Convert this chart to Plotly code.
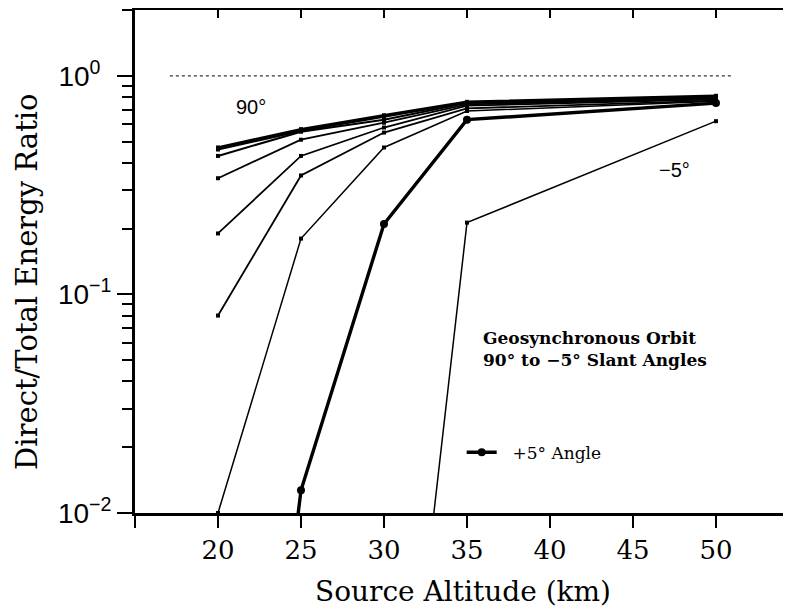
import plotly.graph_objects as go

# ---------------- data ----------------
altitudes = [20, 25, 30, 35, 50]

ratio_90deg = [0.47, 0.57, 0.66, 0.76, 0.81]
ratio_line2 = [0.46, 0.56, 0.65, 0.755, 0.80]
ratio_line3 = [0.43, 0.555, 0.63, 0.75, 0.79]
ratio_line4 = [0.34, 0.51, 0.61, 0.74, 0.785]
ratio_line5 = [0.19, 0.43, 0.58, 0.73, 0.78]
ratio_line6 = [0.08, 0.35, 0.55, 0.71, 0.77]
ratio_line7 = [0.01, 0.18, 0.47, 0.69, 0.765]

plus5_altitudes = [20, 25, 30, 35, 50]
ratio_plus5deg = [0.00001, 0.0127, 0.21, 0.63, 0.75]

minus5_altitudes = [30, 35, 50]
ratio_minus5deg = [0.0001, 0.213, 0.62]

unity_altitudes = [17.1, 51.0]
unity_ratio = [1.0, 1.0]

x_tickvals = [15, 20, 25, 30, 35, 40, 45, 50]
x_ticktext = ["", "20", "25", "30", "35", "40", "45", "50"]
x_top_tickvals = [20, 25, 30, 35, 40, 45, 50]
y_tickvals = [0.01, 0.1, 1]
y_ticktext = ["10<sup>\u22122</sup>",
              "10<sup>\u22121</sup>",
              "10<sup>0\u00a0\u00a0</sup>"]
y_minor_vals = [0.02, 0.03, 0.04, 0.05, 0.06, 0.07, 0.08, 0.09,
                0.2, 0.3, 0.4, 0.5, 0.6, 0.7, 0.8, 0.9, 2.0]

X_RANGE = [15, 54.52]
Y_RANGE = [-2, 0.301]

SERIF = "DejaVu Serif"
HELV = "Liberation Sans"

fig = go.Figure()

# dotted unity reference line
fig.add_trace(go.Scatter(x=unity_altitudes, y=unity_ratio, mode="lines",
                         line=dict(color="#333333", width=1.2, dash="dot"),
                         showlegend=False, hoverinfo="skip"))

thin_series = [ratio_90deg, ratio_line2, ratio_line3, ratio_line4,
               ratio_line5, ratio_line6, ratio_line7]
thin_widths = [2.6, 2.2, 2.0, 1.8, 1.8, 1.8, 1.5]
for vals, w in zip(thin_series, thin_widths):
    fig.add_trace(go.Scatter(x=altitudes, y=vals, mode="lines+markers",
                             line=dict(color="black", width=w),
                             marker=dict(symbol="square", size=4, color="black"),
                             showlegend=False))

fig.add_trace(go.Scatter(x=minus5_altitudes, y=ratio_minus5deg, mode="lines+markers",
                         line=dict(color="black", width=1.5),
                         marker=dict(symbol="square", size=4, color="black"),
                         showlegend=False))

fig.add_trace(go.Scatter(x=plus5_altitudes, y=ratio_plus5deg, mode="lines+markers",
                         name="\u00a0\u00a0+5\u00b0 Angle",
                         line=dict(color="black", width=3.4),
                         marker=dict(symbol="circle", size=8, color="black"),
                         showlegend=True))

# dummy trace for mirrored (inward) tick axes
fig.add_trace(go.Scatter(x=[None], y=[None], xaxis="x2", yaxis="y2",
                         showlegend=False, hoverinfo="skip"))

fig.update_layout(
    width=791, height=609,
    margin=dict(l=127, r=8, t=2, b=104, autoexpand=False),
    paper_bgcolor="white", plot_bgcolor="white",
    showlegend=True,
    legend=dict(x=0.498, y=0.12, xanchor="left", yanchor="middle",
                bgcolor="rgba(0,0,0,0)", borderwidth=0,
                font=dict(family=SERIF, size=17, color="black"),
                itemwidth=30, tracegroupgap=0),
    xaxis=dict(range=X_RANGE, showline=True, linewidth=3, linecolor="black",
               ticks="outside", ticklen=12, tickwidth=2, tickcolor="black",
               tickmode="array", tickvals=x_tickvals, ticktext=x_ticktext,
               tickfont=dict(family=SERIF, size=26, color="black"),
               showgrid=False, zeroline=False, automargin=False,
               title=dict(text="Source Altitude (km)", standoff=18,
                          font=dict(family=SERIF, size=28, color="black"))),
    yaxis=dict(type="log", range=Y_RANGE, showline=True, linewidth=3, linecolor="black",
               ticks="outside", ticklen=15, tickwidth=2, tickcolor="black",
               tickmode="array", tickvals=y_tickvals, ticktext=y_ticktext,
               tickfont=dict(family=HELV, size=28, color="black"),
               minor=dict(ticks="outside", ticklen=10, tickwidth=1.5, tickcolor="black",
                          tickvals=y_minor_vals, showgrid=False),
               showgrid=False, zeroline=False, automargin=False),
    xaxis2=dict(range=X_RANGE, overlaying="x", side="top", showline=True, linewidth=3,
                linecolor="black", ticks="inside", ticklen=8, tickwidth=2,
                tickcolor="black", tickmode="array", tickvals=x_top_tickvals,
                showticklabels=False, showgrid=False, zeroline=False, automargin=False),
    yaxis2=dict(type="log", range=Y_RANGE, overlaying="y", side="right", showline=False,
                ticks="inside", ticklen=4, tickwidth=1.5, tickcolor="black",
                tickmode="array", tickvals=y_tickvals, showticklabels=False,
                minor=dict(ticks="inside", ticklen=3, tickwidth=1, tickcolor="black",
                           tickvals=y_minor_vals, showgrid=False),
                showgrid=False, zeroline=False, automargin=False),
    annotations=[
        dict(text="Direct/Total Energy Ratio", xref="paper", yref="paper",
             x=-0.165, y=0.459, textangle=-90, showarrow=False,
             xanchor="center", yanchor="middle",
             font=dict(family=SERIF, size=29, color="black")),
        dict(text="90\u00b0", x=21.96, y=-0.144, xref="x", yref="y", showarrow=False,
             font=dict(family=HELV, size=20, color="black")),
        dict(text="\u22125\u00b0", x=47.5, y=-0.433, xref="x", yref="y", showarrow=False,
             font=dict(family=HELV, size=20, color="black")),
        dict(text="<b>Geosynchronous Orbit<br>90\u00b0 to \u22125\u00b0 Slant Angles</b>",
             x=35.87, y=-1.249, xref="x", yref="y", showarrow=False,
             xanchor="left", yanchor="middle", align="left",
             font=dict(family=SERIF, size=17, color="black")),
    ],
)

fig.write_html("out.html")
